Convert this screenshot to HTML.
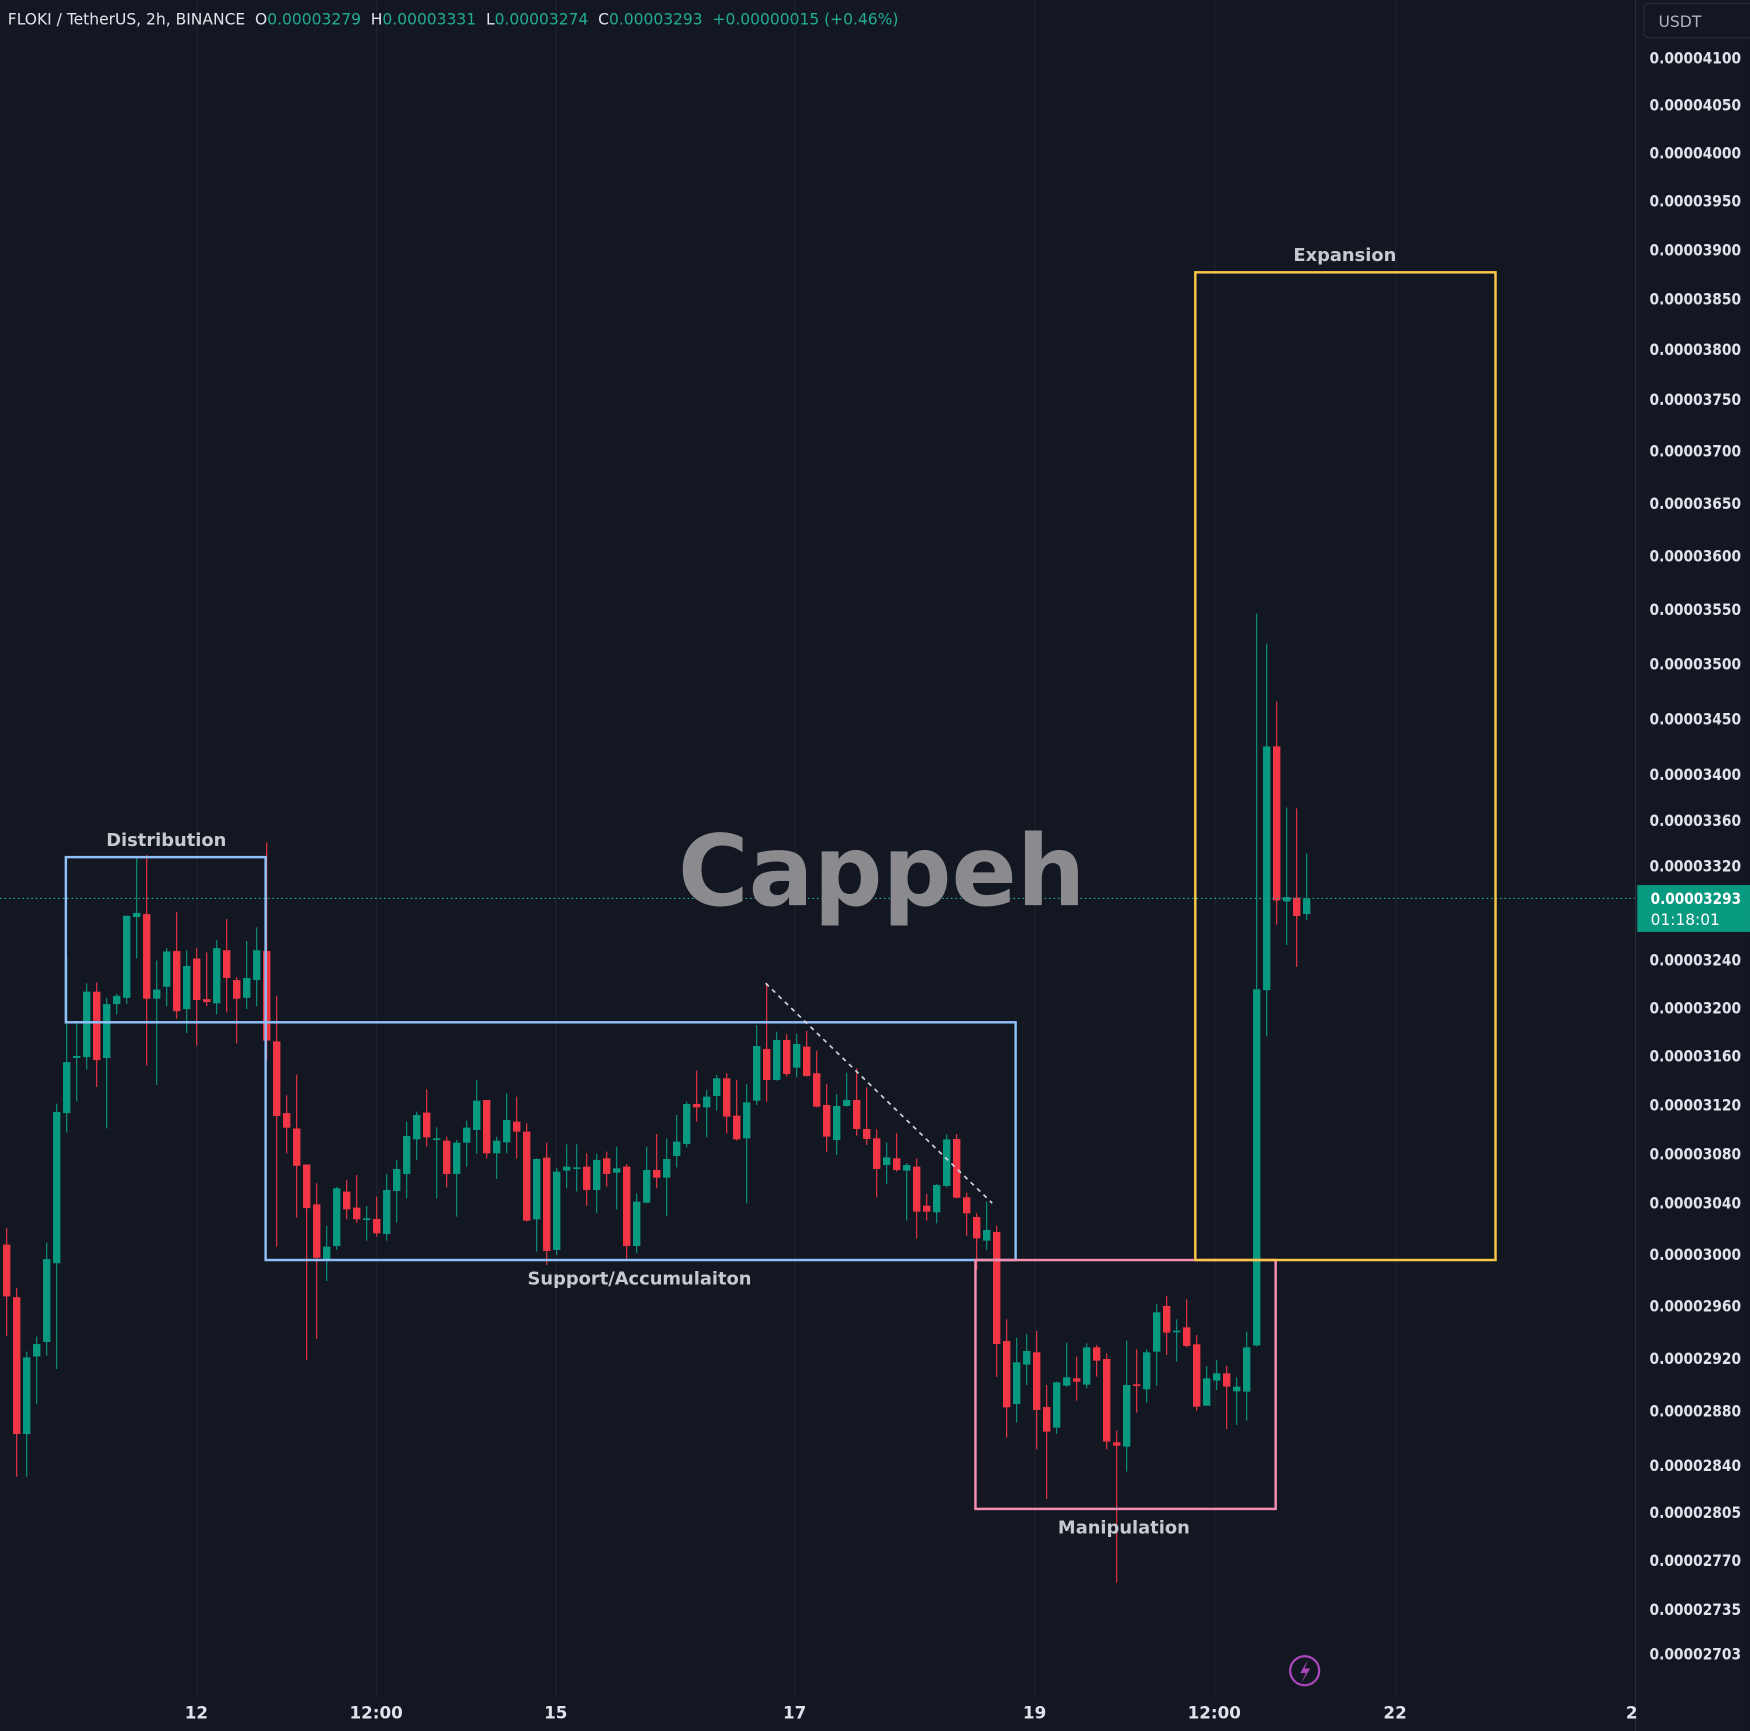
<!DOCTYPE html>
<html><head><meta charset="utf-8"><style>
html,body{margin:0;padding:0;background:#131722;}
svg{display:block;}
</style></head><body>
<svg id="c" xmlns="http://www.w3.org/2000/svg" width="1750" height="1731" viewBox="0 0 1568 1551">
<rect width="1568" height="1551" fill="#131722"/>
<g id="grid" stroke="#1f2330" stroke-width="1"></g>
<g id="candles"></g>
<line x1="0" y1="805" x2="1465" y2="805" stroke="#22ab94" stroke-width="1" stroke-dasharray="1.5,2.5"/>
<text x="790" y="811" text-anchor="middle" font-family="DejaVu Sans, sans-serif" font-weight="bold" font-size="88" fill="#8b8b8f" textLength="365" lengthAdjust="spacingAndGlyphs">Cappeh</text>
<g fill="none" stroke-width="2.2">
<rect x="59" y="768" width="179" height="148" stroke="#90bff9"/>
<rect x="238" y="916" width="672" height="213" stroke="#90bff9"/>
<rect x="874" y="1129" width="269" height="223" stroke="#f48fb1"/>
<rect x="1071" y="244" width="269" height="885" stroke="#f9c846"/>
</g>
<line x1="686" y1="881" x2="889" y2="1078" stroke="#d1d4dc" stroke-width="1.5" stroke-dasharray="4,4"/>
<g font-family="DejaVu Sans, sans-serif" font-weight="bold" font-size="16" fill="#c7c9d0" text-anchor="middle">
<text x="149" y="758">Distribution</text>
<text x="573" y="1151">Support/Accumulaiton</text>
<text x="1007" y="1374">Manipulation</text>
<text x="1205" y="234">Expansion</text>
</g>
<line x1="1465.5" y1="0" x2="1465.5" y2="1551" stroke="#2a2e39" stroke-width="1"/>
<rect x="1473" y="3" width="100" height="31" rx="5" fill="#131722" stroke="#2a2e39"/>
<text x="1486" y="24" font-family="DejaVu Sans, sans-serif" font-size="14" fill="#b2b5be">USDT</text>
<g id="plabels" font-family="DejaVu Sans, sans-serif" font-weight="bold" font-size="14" fill="#e0e3eb"></g>
<rect x="1467" y="793" width="101" height="42" fill="#089981"/>
<text x="1479" y="810" font-family="DejaVu Sans, sans-serif" font-weight="bold" font-size="14" fill="#ffffff" textLength="81" lengthAdjust="spacingAndGlyphs">0.00003293</text>
<text x="1479" y="829" font-family="DejaVu Sans, sans-serif" font-size="14" fill="#ffffff" textLength="62" lengthAdjust="spacingAndGlyphs">01:18:01</text>
<g font-family="DejaVu Sans, sans-serif" font-weight="bold" font-size="15" fill="#e0e3eb" text-anchor="middle">
<text x="176" y="1540">12</text><text x="337" y="1540">12:00</text><text x="498" y="1540">15</text>
<text x="712" y="1540">17</text><text x="927" y="1540">19</text><text x="1088" y="1540">12:00</text>
<text x="1250" y="1540">22</text><text x="1462" y="1540">2</text>
</g>
<circle cx="1169" cy="1497" r="13" fill="none" stroke="#ab47bc" stroke-width="2"/>
<path d="M1172 1487 L1165 1499 L1170 1499 L1166 1508 L1174 1495 L1169 1495 Z" fill="#ab47bc"/>
<text x="7" y="22" xml:space="preserve" font-family="DejaVu Sans, sans-serif" font-size="14" fill="#e0e3eb" textLength="798" lengthAdjust="spacingAndGlyphs">FLOKI / TetherUS, 2h, BINANCE  O<tspan fill="#22ab94">0.00003279</tspan>  H<tspan fill="#22ab94">0.00003331</tspan>  L<tspan fill="#22ab94">0.00003274</tspan>  C<tspan fill="#22ab94">0.00003293</tspan>  <tspan fill="#22ab94">+0.00000015 (+0.46%)</tspan></text>
</svg>
<script>
var NS="http://www.w3.org/2000/svg";
function el(p,t,a){var e=document.createElementNS(NS,t);for(var k in a)e.setAttribute(k,a[k]);p.appendChild(e);return e;}
var g=document.getElementById('grid');
[176,337,498,712,927,1088,1250].forEach(function(x){el(g,'line',{x1:x+.5,y1:0,x2:x+.5,y2:1520});});
var pl=document.getElementById('plabels');
[["4100",52],["4050",94],["4000",137],["3950",180],["3900",224],["3850",268],["3800",313],["3750",358],["3700",404],["3650",451],["3600",498],["3550",546],["3500",595],["3450",644],["3400",694],["3360",735],["3320",776],["3240",860],["3200",903],["3160",946],["3120",990],["3080",1034],["3040",1078],["3000",1124],["2960",1170],["2920",1217],["2880",1264],["2840",1313],["2805",1355],["2770",1398],["2735",1442],["2703",1482]].forEach(function(p){var t=el(pl,'text',{x:1478,y:p[1]+5,textLength:82,lengthAdjust:'spacingAndGlyphs'});t.textContent="0.0000"+p[0];});
var Z4=[["r",960,1000,1125,1220],["r",1105,1127,1457,1560],["g",1258,1457,1272,1560],["g",1222,1270,1240,1385],["g",995,1235,1035,1268],["g",660,1045,680,1300],["g",305,683,560,730],["g",465,550,545,655],["g",370,548,390,578],["r",368,390,555,620],["g",405,550,420,720],["g",395,420,400,445],["g",225,405,207,420],["g",65,210,200,310],["r",60,203,407,568],["g",315,407,385,615],["g",285,378,293,425],["r",198,292,437,455],["g",290,432,328,490],["r",285,310,410,520],["r",295,408,415,425],["g",265,418,285,445],["r",215,290,357,440],["r",355,362,407,515],["g",268,405,357,432],["g",235,362,290,425],["r",30,292,508,555],["r",400,510,690,1005],["r",640,683,718,780],["r",590,720,810,935],["r",830,807,912,1278],["r",852,903,1032,1228],["g",955,1035,1005,1088]];
var Z5=[["g",410,588,415,600],["r",390,425,478,508],["r",375,473,508,518],["g",468,505,505,572],["r",440,507,550,560],["g",372,552,420,572],["g",330,423,357,518],["g",215,372,258,445],["g",185,268,195,330],["r",118,188,262,290],["g",232,265,265,445],["r",260,272,372,412],["g",270,372,278,500],["g",212,278,233,350],["g",90,240,152,312],["r",150,150,310,325],["g",260,310,272,387],["g",130,277,210,310],["r",140,215,245,325],["r",220,245,512,515],["g",325,508,327,605],["r",278,323,603,645],["g",355,600,365,615],["g",283,362,350,415],["g",283,352,352,425],["r",310,350,420,468],["g",312,420,330,490],["r",305,325,372,410],["g",290,368,355,478],["r",342,350,588,628],["g",430,588,455,610],["g",290,458,360,460],["r",252,360,383,415],["g",265,383,327,498],["g",195,318,275,352],["g",155,282,162,292],["r",62,162,172,215],["g",120,172,140,262],["g",75,138,85,182]];
var Z6=[["r",310,325,440,490],["r",330,437,508,512],["g",342,505,397,700],["g",165,392,228,405],["r",38,237,330,395],["g",185,330,210,332],["r",192,210,312,320],["g",192,293,222,322],["r",183,230,318,320],["r",242,310,410,412],["r",342,405,500,545],["g",372,510,408,555],["g",308,408,390,410],["r",295,390,477,497],["r",352,477,507,525],["r",478,505,597,682],["g",518,585,562,642],["r",490,565,600,605],["g",580,602,585,752],["r",565,590,725,805],["r",672,707,725,752],["g",642,727,645,760],["g",493,648,508,652],["r",492,507,683,685],["r",668,682,730,798],["r",730,741,805,900],["g",695,812,780,840]];
var Z7=[["r",178,243,442,533],["g",233,432,307,488],["g",222,314,273,375],["r",213,277,450,568],["r",375,441,515,717],["g",365,503,367,522],["g",248,377,352,380],["r",290,355,365,422],["g",250,374,262,385],["r",255,262,302,350],["r",280,297,545,568],["r",512,547,557,968],["g",242,560,375,635],["r",268,373,377,458],["g",268,388,277,428],["g",133,275,157,378],["r",108,138,218,285],["g",178,212,215,305],["r",118,202,258,262],["r",225,253,440,452],["g",318,437,355,437],["g",300,362,340,390],["r",318,340,380,507],["g",352,394,380,495],["g",215,395,262,482]];
var Z8=[["g",28,1538,803,1540],["g",90,805,302,900],["r",210,302,620,670],["g",428,622,613,712],["r",430,614,652,757],["g",523,648,616,660]];
var S=1750/1568, C=[];
function add(arr,sc,off){arr.forEach(function(c){C.push([c[0],c[1]/sc+off,c[2]/sc+off,c[3]/sc+off,c[4]/sc+off]);});}
add(Z4,2.412,830);add(Z5,3,1050);add(Z6,3,970);
C.push(["r",1226,1232,1344,1377]);
add(Z7,3,1260);add(Z8,2.063,600);
var cg=document.getElementById('candles');
C.forEach(function(c,i){
  var x=6+8.96*i, col=c[0]=="g"?"#089981":"#f23645";
  var h=c[1]/S,o=c[2]/S,cl=c[3]/S,l=c[4]/S;
  var top=Math.min(o,cl),bot=Math.max(o,cl);
  el(cg,'line',{x1:x,y1:Math.min(h,top),x2:x,y2:Math.max(l,bot),stroke:col,'stroke-width':1});
  el(cg,'rect',{x:x-3.3,y:top,width:6.6,height:Math.max(bot-top,1.5),fill:col});
});
</script>
</body></html>
